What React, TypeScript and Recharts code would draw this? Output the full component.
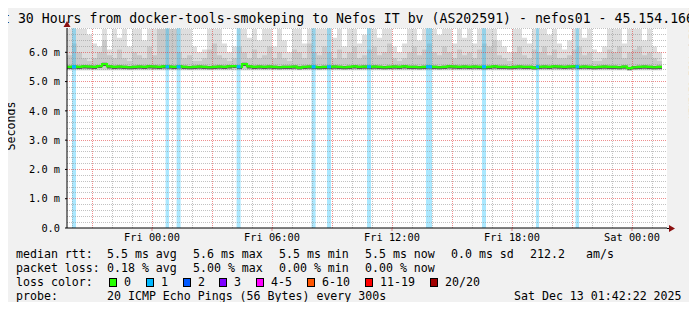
import {
    ComposedChart,
    Area,
    Line,
    XAxis,
    YAxis,
    CartesianGrid,
    ReferenceArea,
    ReferenceLine
} from 'recharts';

// 15 minute steps, hours since Thu 19:45
const hours = Array.from({ length: 120 }, (_, i) => i * 0.25);

const smokeFloor = 5.38;

const smokeHigh = [
    6.8, 6.8, 6.8, 6.8, 6.6, 6.3, 6.2, 6.8, 6.1, 6.8, 6.5, 6.8, 6.2, 6.8, 6.8, 6.4, 6.8, 6.8, 6.8, 6.6,
    6.8, 6.8, 6.8, 6.8, 6.8, 6.2, 6.0, 6.1, 6.8, 6.8, 6.8, 6.3, 6.0, 6.2, 6.8, 6.8, 6.5, 6.8, 6.4, 6.8,
    6.8, 6.2, 6.8, 6.4, 6.0, 6.8, 6.8, 6.3, 6.8, 6.8, 6.8, 6.8, 6.8, 6.5, 6.8, 6.2, 6.8, 6.8, 6.3, 6.6,
    6.8, 6.8, 6.5, 6.8, 6.8, 6.2, 6.0, 6.3, 6.8, 6.8, 6.4, 6.8, 6.8, 6.8, 6.6, 6.8, 6.8, 6.3, 6.8, 6.5,
    6.8, 6.3, 6.8, 6.8, 6.8, 6.8, 6.4, 6.2, 6.0, 6.8, 6.8, 6.5, 6.3, 6.8, 6.8, 6.8, 6.6, 6.8, 6.3, 6.1,
    6.4, 6.8, 6.8, 6.5, 6.8, 6.1, 6.0, 6.2, 6.8, 6.8, 6.8, 6.3, 6.8, 6.8, 6.8, 6.4, 6.8, 6.2, 6.0, 5.9
];

const smokeMid = [
    5.9, 6.3, 6.0, 5.8, 5.7, 5.8, 6.0, 6.4, 5.9, 5.8, 6.1, 5.8, 5.7, 6.0, 5.9, 5.8, 6.2, 5.9, 6.8, 6.8,
    6.8, 6.8, 6.0, 5.8, 5.9, 5.7, 5.7, 5.8, 6.1, 6.3, 5.9, 5.8, 5.7, 5.8, 6.2, 6.0, 5.8, 6.1, 5.8, 5.9,
    6.2, 5.8, 6.0, 5.8, 5.7, 6.1, 6.0, 5.8, 6.3, 6.0, 5.9, 6.2, 6.0, 5.8, 6.1, 5.8, 6.0, 6.2, 5.8, 5.9,
    6.1, 6.2, 5.9, 6.0, 6.3, 5.8, 5.7, 5.8, 6.0, 6.2, 5.9, 6.1, 6.3, 6.0, 5.9, 6.2, 6.0, 5.8, 6.1, 5.9,
    6.0, 5.8, 6.1, 6.3, 6.2, 6.4, 5.9, 5.8, 5.7, 6.0, 6.2, 5.9, 5.8, 6.1, 6.0, 6.2, 5.9, 6.1, 5.8, 5.8,
    5.9, 6.1, 6.2, 5.9, 6.0, 5.7, 5.7, 5.8, 6.1, 6.0, 6.2, 5.8, 6.0, 6.1, 6.2, 5.9, 6.0, 5.8, 5.7, 5.7
];

const medianRtt = [
    5.50, 5.51, 5.50, 5.52, 5.51, 5.50, 5.53, 5.60, 5.52, 5.50, 5.51, 5.50, 5.49, 5.50, 5.51, 5.50, 5.52, 5.51, 5.50, 5.52,
    5.51, 5.50, 5.52, 5.50, 5.49, 5.50, 5.51, 5.50, 5.49, 5.50, 5.51, 5.50, 5.52, 5.53, 5.50, 5.60, 5.52, 5.50, 5.51, 5.50,
    5.51, 5.50, 5.49, 5.50, 5.50, 5.51, 5.48, 5.50, 5.51, 5.50, 5.49, 5.50, 5.50, 5.51, 5.50, 5.49, 5.50, 5.52, 5.50, 5.51,
    5.50, 5.51, 5.50, 5.49, 5.50, 5.51, 5.50, 5.52, 5.50, 5.50, 5.49, 5.50, 5.51, 5.50, 5.49, 5.50, 5.52, 5.51, 5.50, 5.51,
    5.50, 5.51, 5.50, 5.49, 5.50, 5.52, 5.50, 5.50, 5.49, 5.50, 5.51, 5.50, 5.50, 5.48, 5.50, 5.51, 5.50, 5.52, 5.51, 5.50,
    5.51, 5.52, 5.50, 5.51, 5.50, 5.49, 5.50, 5.51, 5.50, 5.50, 5.49, 5.51, 5.46, 5.49, 5.50, 5.51, 5.50, 5.49, 5.50, 5.50
];

// loss events (hours), 1/20 lost
const lossFrom = [0.25, 4.93, 5.48, 8.48, 12.23, 13.0, 15.0, 17.95, 20.75, 23.45, 25.43];
const lossTo = [0.45, 5.1, 5.68, 8.68, 12.43, 13.2, 15.2, 18.25, 20.95, 23.6, 25.6];

const xTicks = [4.25, 10.25, 16.25, 22.25, 28.25];
const xTickLabels = ['Fri 00:00', 'Fri 06:00', 'Fri 12:00', 'Fri 18:00', 'Sat 00:00'];
const yTicks = [0, 1, 2, 3, 4, 5, 6];
const yTickLabels = ['0.0', '1.0 m', '2.0 m', '3.0 m', '4.0 m', '5.0 m', '6.0 m'];

const lossLabels = ['0', '1', '2', '3', '4-5', '6-10', '11-19', '20/20'];
const lossColors = ['#26ff00', '#00b8ff', '#0059ff', '#7e00ff', '#ff00ff', '#ff5500', '#ff0000', '#a10000'];
const lossBoxX = [109, 146, 183, 219, 256, 307, 365, 430];

const rows = hours.map((t, i) => ({
    t,
    light: [smokeFloor, smokeHigh[i]],
    mid: [smokeFloor + 0.03, smokeMid[i]],
    dark: [medianRtt[i] - 0.07, medianRtt[i] + 0.04],
    median: medianRtt[i]
}));

// grid positions
const minorY: number[] = [];
for (let k = 1; k <= 34; k++) if (k % 5 !== 0) minorY.push(Math.round(k * 20) / 100);
const majorY = [1, 2, 3, 4, 5, 6];
const minorX: number[] = [];
const majorX: number[] = [];
for (let k = 0; k < 30; k++) {
    const h = 0.25 + k;
    if ((k - 1) % 3 === 0) majorX.push(h); else minorX.push(h);
}

const FONT = "'DejaVu Sans Mono', monospace";

export default function App() {
    return (
        <div style={{ position: 'relative', width: 697, height: 310, margin: -8, background: '#f1f1f1', overflow: 'hidden' }}>
            <ComposedChart width={697} height={310} data={rows}
                margin={{ top: 28, right: 30, bottom: 62, left: 0 }}>
                <CartesianGrid horizontal={false} vertical={false} fill="#ffffff" />
                <XAxis dataKey="t" type="number" domain={[0, 30]} ticks={xTicks}
                    tickFormatter={(v) => xTickLabels[xTicks.indexOf(v)]}
                    height={20} tickSize={3} tickMargin={3}
                    axisLine={{ stroke: '#000' }} tickLine={{ stroke: '#c82020', strokeOpacity: 0.5 }}
                    tick={{ fill: '#000', fontSize: 10.3, fontFamily: FONT }} />
                <YAxis type="number" domain={[0, 6.83]} ticks={yTicks} width={67}
                    tickFormatter={(v) => yTickLabels[yTicks.indexOf(v)]}
                    tickSize={2} tickMargin={5} allowDataOverflow
                    axisLine={{ stroke: '#000' }} tickLine={{ stroke: '#000' }}
                    tick={{ fill: '#000', fontSize: 10.3, fontFamily: FONT }} />
                <Area dataKey="light" type="stepAfter" stroke="none" fill="#dedede" fillOpacity={1} isAnimationActive={false} />
                <Area dataKey="mid" type="stepAfter" stroke="none" fill="#c9c9c9" fillOpacity={1} isAnimationActive={false} />
                <Area dataKey="dark" type="stepAfter" stroke="none" fill="#5a5a5a" fillOpacity={1} isAnimationActive={false} />
                {lossFrom.map((f, i) => (
                    <ReferenceArea key={`loss-${i}`} x1={f} x2={lossTo[i]} y1={0} y2={6.83}
                        fill="#00b8ff" fillOpacity={0.33} stroke="none" zIndex={150} />
                ))}
                {minorY.map((v) => (
                    <ReferenceLine key={`my-${v}`} y={v} stroke="#8f8f8f" strokeOpacity={0.55}
                        strokeDasharray="1 1" shapeRendering="crispEdges" zIndex={160} />
                ))}
                {minorX.map((v) => (
                    <ReferenceLine key={`mx-${v}`} x={v} stroke="#8f8f8f" strokeOpacity={0.55}
                        strokeDasharray="1 1" shapeRendering="crispEdges" zIndex={160} />
                ))}
                {majorY.map((v) => (
                    <ReferenceLine key={`My-${v}`} y={v} stroke="#e03030" strokeOpacity={0.55}
                        strokeDasharray="1 1" shapeRendering="crispEdges" zIndex={170} />
                ))}
                {majorX.map((v) => (
                    <ReferenceLine key={`Mx-${v}`} x={v} stroke="#e03030" strokeOpacity={0.55}
                        strokeDasharray="1 1" shapeRendering="crispEdges" zIndex={170} />
                ))}
                <Line dataKey="median" type="stepAfter" stroke="#26ff00" strokeWidth={2.2}
                    dot={false} isAnimationActive={false} />
                {lossFrom.map((f, i) => (
                    <ReferenceArea key={`lm-${i}`} x1={f} x2={lossTo[i]} y1={5.46} y2={5.56}
                        fill="#00b8ff" fillOpacity={1} stroke="none" zIndex={450} />
                ))}
            </ComposedChart>
            <svg width={697} height={310} style={{ position: 'absolute', left: 0, top: 0, pointerEvents: 'none' }}
                fontFamily={FONT}>
                <rect x={0} y={0} width={697} height={2} fill="#cfcfcf" />
                <rect x={0} y={0} width={2} height={310} fill="#cfcfcf" />
                <rect x={695} y={0} width={2} height={310} fill="#9e9e9e" />
                <rect x={0} y={308} width={697} height={2} fill="#9e9e9e" />
                <text x={2} y={23} fontSize={13.2} fill="#000" textLength={692} lengthAdjust="spacing">
                    t 30 Hours from docker-tools-smokeping to Nefos IT bv (AS202591) - nefos01 - 45.154.166
                </text>
                <text x={15} y={126} fontSize={11.6} fill="#000" textAnchor="middle" transform="rotate(-90 15 126)">
                    Seconds
                </text>
                <text x={689} y={60} fontSize={8.8} fill="#a8a8a8" textAnchor="middle" transform="rotate(90 689 60)">
                    RRDTOOL / TOBI OETIKER
                </text>
                <line x1={667} y1={228.5} x2={670} y2={228.5} stroke="#000" />
                <polygon points="669,225 669,232 675,228.5" fill="#8b1010" />
                <polygon points="63.5,27 70.5,27 67,21" fill="#8b1010" />

                <g fontSize={11.6} fill="#000">
                    <text x={16} y={258}>median rtt:</text>
                    <text x={107} y={258}>5.5 ms avg</text>
                    <text x={193} y={258}>5.6 ms max</text>
                    <text x={279} y={258}>5.5 ms min</text>
                    <text x={365} y={258}>5.5 ms now</text>
                    <text x={451} y={258}>0.0 ms sd</text>
                    <text x={530} y={258}>212.2</text>
                    <text x={586} y={258}>am/s</text>

                    <text x={16} y={272}>packet loss:</text>
                    <text x={107} y={272}>0.18 % avg</text>
                    <text x={193} y={272}>5.00 % max</text>
                    <text x={279} y={272}>0.00 % min</text>
                    <text x={365} y={272}>0.00 % now</text>

                    <text x={16} y={286}>loss color:</text>
                    {lossLabels.map((l, i) => (
                        <g key={l}>
                            <rect x={lossBoxX[i] + 0.5} y={278.5} width={7} height={8} fill={lossColors[i]} stroke="#000" />
                            <text x={lossBoxX[i] + 15} y={286}>{l}</text>
                        </g>
                    ))}

                    <text x={16} y={300}>probe:</text>
                    <text x={107} y={300}>20 ICMP Echo Pings (56 Bytes) every 300s</text>
                    <text x={514} y={300}>Sat Dec 13 01:42:22 2025</text>
                </g>
            </svg>
        </div>
    );
}
